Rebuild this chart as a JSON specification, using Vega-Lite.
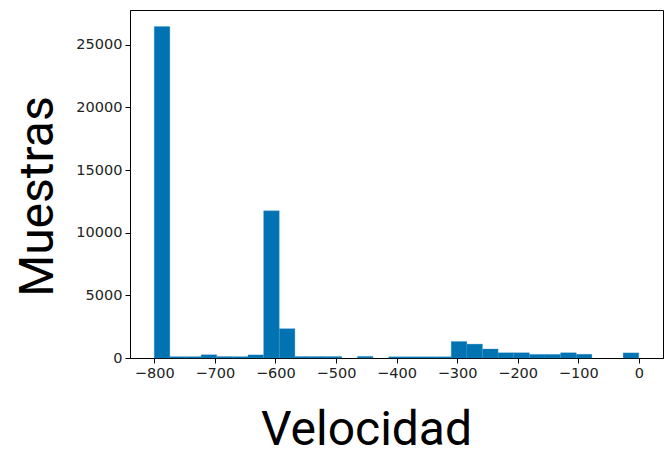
{
  "$schema": "https://vega.github.io/schema/vega-lite/v6.json",
  "autosize": {"type": "none"},
  "padding": {"left": 130, "top": 10, "right": 8, "bottom": 92},
  "width": 533,
  "height": 348,
  "background": "white",
  "config": {
    "view": {"stroke": "black", "strokeWidth": 1},
    "axis": {
      "domainColor": "black",
      "tickColor": "black",
      "tickSize": 5,
      "labelFont": "DejaVu Sans",
      "labelFontSize": 14.5,
      "labelColor": "#222222",
      "grid": false,
      "titleFont": "Roboto",
      "titleFontSize": 48,
      "titleFontWeight": "normal",
      "titleColor": "black"
    }
  },
  "data": {
    "values": [
      {"start": -800, "end": -774.19, "count": 26460},
      {"start": -774.19, "end": -748.39, "count": 110},
      {"start": -748.39, "end": -722.58, "count": 110},
      {"start": -722.58, "end": -696.77, "count": 260},
      {"start": -696.77, "end": -670.97, "count": 110},
      {"start": -670.97, "end": -645.16, "count": 110},
      {"start": -645.16, "end": -619.35, "count": 250},
      {"start": -619.35, "end": -593.55, "count": 11750},
      {"start": -593.55, "end": -567.74, "count": 2340},
      {"start": -567.74, "end": -541.94, "count": 120},
      {"start": -541.94, "end": -516.13, "count": 120},
      {"start": -516.13, "end": -490.32, "count": 120},
      {"start": -490.32, "end": -464.52, "count": 0},
      {"start": -464.52, "end": -438.71, "count": 130},
      {"start": -438.71, "end": -412.9, "count": 0},
      {"start": -412.9, "end": -387.1, "count": 100},
      {"start": -387.1, "end": -361.29, "count": 100},
      {"start": -361.29, "end": -335.48, "count": 100},
      {"start": -335.48, "end": -309.68, "count": 100},
      {"start": -309.68, "end": -283.87, "count": 1320},
      {"start": -283.87, "end": -258.06, "count": 1110},
      {"start": -258.06, "end": -232.26, "count": 720},
      {"start": -232.26, "end": -206.45, "count": 420},
      {"start": -206.45, "end": -180.65, "count": 420},
      {"start": -180.65, "end": -154.84, "count": 290},
      {"start": -154.84, "end": -129.03, "count": 290},
      {"start": -129.03, "end": -103.23, "count": 420},
      {"start": -103.23, "end": -77.42, "count": 300},
      {"start": -77.42, "end": -51.61, "count": 0},
      {"start": -51.61, "end": -25.81, "count": 0},
      {"start": -25.81, "end": 0, "count": 410}
    ]
  },
  "transform": [{"filter": "datum.count > 0"}],
  "mark": {"type": "bar", "color": "#0173b2", "stroke": "#3f92c8", "strokeWidth": 0.3},
  "encoding": {
    "x": {
      "field": "start",
      "type": "quantitative",
      "scale": {"domain": [-840, 40], "nice": false, "zero": false},
      "axis": {
        "title": "Velocidad",
        "values": [-800, -700, -600, -500, -400, -300, -200, -100, 0],
        "labelExpr": "replace(datum.label, '-', '−')",
        "labelPadding": 3,
        "titleX": 236,
        "titleY": 86,
        "titleAlign": "center",
        "titleBaseline": "alphabetic"
      }
    },
    "x2": {"field": "end"},
    "y": {
      "field": "count",
      "type": "quantitative",
      "scale": {"domain": [0, 27783], "nice": false},
      "axis": {
        "title": "Muestras",
        "values": [0, 5000, 10000, 15000, 20000, 25000],
        "format": "d",
        "labelPadding": 3,
        "titleAngle": -90,
        "titleX": -78,
        "titleY": 186,
        "titleAlign": "center",
        "titleBaseline": "alphabetic"
      }
    },
    "y2": {"datum": 0}
  }
}
